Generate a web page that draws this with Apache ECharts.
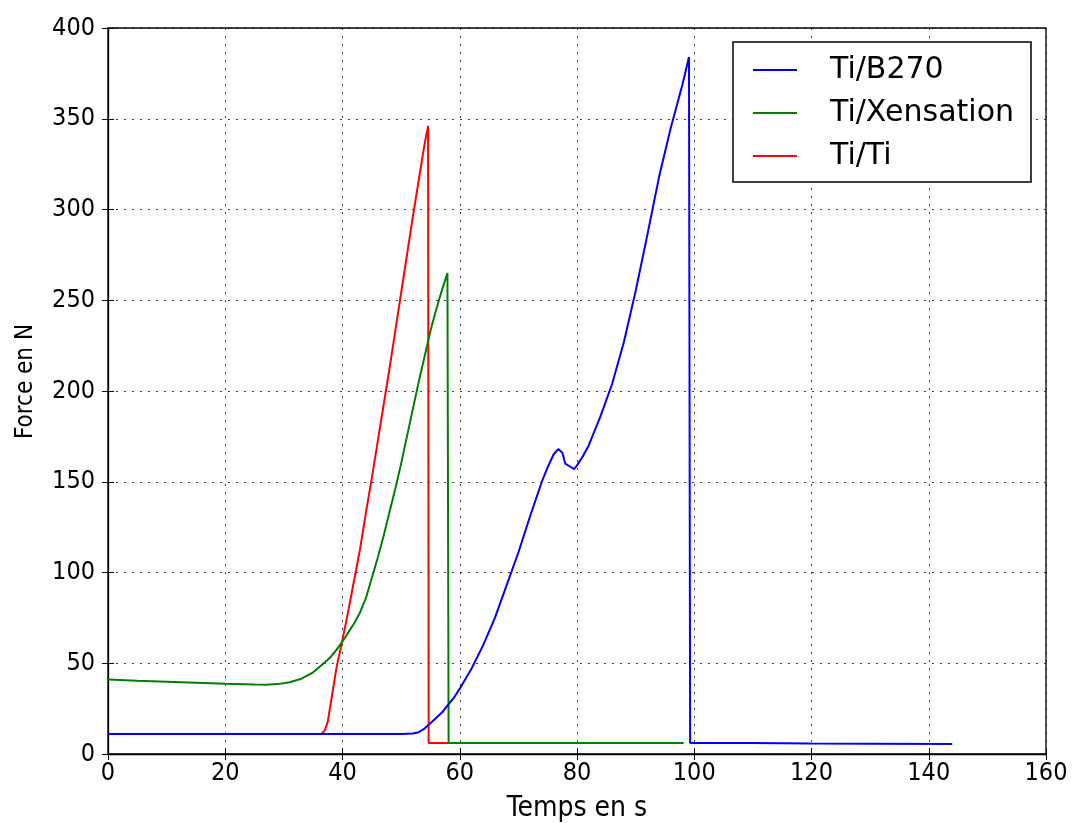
<!DOCTYPE html>
<html>
<head>
<meta charset="utf-8">
<script src="https://cdn.jsdelivr.net/npm/echarts@6/dist/echarts.min.js"></script>
<style>html,body{margin:0;padding:0;background:#fff}#c{width:1073px;height:823px}</style>
</head>
<body>
<div id="c"></div>
<script>
// Ti/B270
const b270Time  = [0, 10, 20, 30, 40, 50, 52, 53, 54, 55, 56, 57, 58, 59, 60, 62, 64, 66, 68, 70, 72, 74, 75, 76, 76.8, 77.5, 78, 79, 79.5, 80, 81, 82, 84, 86, 88, 90, 92, 94, 96, 98, 99.1, 99.3, 110, 120, 130, 144];
const b270Force = [11, 11, 11, 11, 11, 11, 11.3, 12, 14, 17, 20, 23, 27, 31, 36, 47, 60, 75, 93, 111, 131, 150, 158, 165, 168, 166, 160, 158, 157, 159, 164, 170, 186, 204, 227, 255, 286, 318, 345, 369, 384, 6, 6, 5.8, 5.7, 5.5];
// Ti/Xensation
const xensTime  = [0, 5, 10, 15, 20, 25, 27, 29, 31, 33, 35, 37, 38, 39, 40, 41, 42, 43, 44, 45, 46, 47, 48, 49, 50, 51, 52, 53, 54, 55, 56, 57, 57.9, 58.1, 70, 80, 90, 98.2];
const xensForce = [41, 40.3, 39.8, 39.3, 38.7, 38.3, 38.2, 38.5, 39.5, 41.5, 45, 50.5, 53.5, 57.5, 62, 67, 72, 78, 86, 97, 108, 120, 133, 146, 160, 175, 190, 205, 219, 233, 245, 256, 265, 6, 6, 6, 6, 6];
// Ti/Ti
const tiTime  = [0, 10, 20, 30, 36.4, 37, 37.5, 38, 39, 40, 41, 42, 43, 44, 45, 46, 47, 48, 49, 50, 51, 52, 53, 54, 54.6, 54.7, 70, 80, 90, 98];
const tiForce = [11, 11, 11, 11, 11, 13, 18, 28, 48, 63, 79, 96, 113, 133, 152, 172, 192, 212, 233, 254, 275, 296, 316, 336, 346, 6, 6, 6, 6, 6];

const seriesNames = ['Ti/B270', 'Ti/Xensation', 'Ti/Ti'];
const xTicks = [0, 160, 20];
const yTicks = [0, 400, 50];

const zip = (a, b) => a.map((v, i) => [v, b[i]]);
const colors = ['#0000ff', '#008000', '#ff0000'];
const datas = [zip(b270Time, b270Force), zip(xensTime, xensForce), zip(tiTime, tiForce)];

const chart = echarts.init(document.getElementById('c'), null, {renderer: 'canvas'});
const gridLine = {show: true, lineStyle: {color: '#000', type: [2, 6], width: 1, opacity: 0.75}};
const tick = {show: true, inside: true, length: 6, lineStyle: {color: '#000', width: 1}};
chart.setOption({
  animation: false,
  backgroundColor: '#fff',
  grid: {left: 108, right: 27, top: 28, bottom: 69, outerBoundsMode: 'none', containLabel: false,
         show: true, borderColor: '#000', borderWidth: 1.3, backgroundColor: 'transparent'},
  legend: {
    orient: 'vertical', left: 733, top: 42,
    data: seriesNames,
    icon: 'rect',
    backgroundColor: '#fff', borderColor: '#000', borderWidth: 1.5, borderRadius: 0,
    padding: [13, 13, 11, 20],
    itemWidth: 44, itemHeight: 2, itemGap: 13,
    textStyle: {fontFamily: 'DejaVu Sans', fontSize: 30, color: '#000', padding: [0, 0, 0, 28], lineHeight: 30, width: 188}
  },
  xAxis: [{
    type: 'value', min: xTicks[0], max: xTicks[1], interval: xTicks[2],
    name: 'Temps en s', nameLocation: 'middle', nameGap: 41,
    nameTextStyle: {fontFamily: 'DejaVu Sans Condensed', fontSize: 28, color: '#000'},
    axisLine: {show: true, lineStyle: {color: '#000', width: 1.3}},
    axisTick: tick,
    axisLabel: {fontFamily: 'DejaVu Sans Condensed', fontSize: 25, color: '#000', margin: 7},
    splitLine: gridLine
  }, {
    type: 'value', position: 'top', min: xTicks[0], max: xTicks[1], interval: xTicks[2],
    axisLine: {show: false}, axisLabel: {show: false}, splitLine: {show: false},
    axisTick: tick
  }],
  yAxis: [{
    type: 'value', min: yTicks[0], max: yTicks[1], interval: yTicks[2],
    name: 'Force en N', nameLocation: 'middle', nameGap: 70, nameRotate: 90,
    nameTextStyle: {fontFamily: 'DejaVu Sans Condensed', fontSize: 24, color: '#000', padding: [0, 0, 0, 19]},
    axisLine: {show: true, lineStyle: {color: '#000', width: 1.3}},
    axisTick: tick,
    axisLabel: {fontFamily: 'DejaVu Sans Condensed', fontSize: 25, color: '#000', margin: 13},
    splitLine: gridLine
  }, {
    type: 'value', position: 'right', min: yTicks[0], max: yTicks[1], interval: yTicks[2],
    axisLine: {show: false}, axisLabel: {show: false}, splitLine: {show: false},
    axisTick: tick
  }],
  series: seriesNames.map((n, i) => ({
    name: n, type: 'line', data: datas[i], symbol: 'none', showSymbol: false,
    lineStyle: {color: colors[i], width: 2}, itemStyle: {color: colors[i]},
    xAxisIndex: 0, yAxisIndex: 0, z: 3 - i
  }))
});
</script>
</body>
</html>
